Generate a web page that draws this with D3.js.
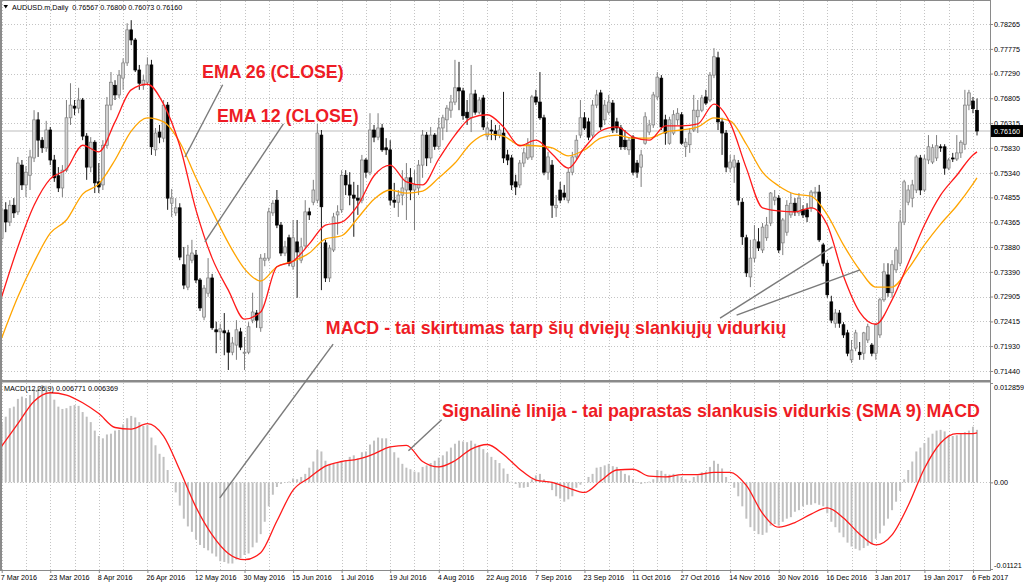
<!DOCTYPE html>
<html>
<head>
<meta charset="utf-8">
<script src="https://cdn.jsdelivr.net/npm/d3@7"></script>
<style>
body{margin:0;background:#fff;}
svg{display:block;font-family:"Liberation Sans",Arial,sans-serif;}
</style>
</head>
<body>
<svg id="chart" width="1024" height="584"></svg>
<script>
// daily bars, 7 Mar 2016 .. 7 Feb 2017
var opens = [
0.7405,0.7461,0.7437,0.7470,0.7457,0.7549,0.7510,0.7529,0.7563,0.7638,
0.7598,0.7583,0.7618,0.7559,0.7528,0.7504,0.7539,0.7642,0.7665,0.7661,
0.7677,0.7606,0.7545,0.7594,0.7516,0.7510,0.7588,0.7667,0.7706,0.7687,
0.7720,0.7750,0.7815,0.7795,0.7736,0.7706,0.7712,0.7746,0.7579,0.7614,
0.7602,0.7667,0.7474,0.7455,0.7465,0.7353,0.7309,0.7362,0.7372,0.7323,
0.7250,0.7297,0.7327,0.7225,0.7221,0.7223,0.7219,0.7181,0.7195,0.7221,
0.7179,0.7181,0.7244,0.7258,0.7229,0.7362,0.7366,0.7455,0.7480,0.7431,
0.7376,0.7406,0.7350,0.7398,0.7362,0.7390,0.7457,0.7476,0.7480,0.7608,
0.7396,0.7327,0.7382,0.7451,0.7461,0.7529,0.7510,0.7490,0.7484,0.7480,
0.7559,0.7535,0.7618,0.7604,0.7622,0.7583,0.7579,0.7480,0.7476,0.7490,
0.7500,0.7524,0.7500,0.7504,0.7549,0.7608,0.7563,0.7608,0.7586,0.7622,
0.7638,0.7657,0.7673,0.7701,0.7695,0.7653,0.7642,0.7689,0.7653,0.7681,
0.7606,0.7618,0.7616,0.7608,0.7612,0.7569,0.7563,0.7516,0.7510,0.7553,
0.7563,0.7565,0.7683,0.7673,0.7642,0.7535,0.7549,0.7465,0.7500,0.7494,
0.7480,0.7535,0.7565,0.7608,0.7642,0.7634,0.7608,0.7667,0.7691,0.7638,
0.7653,0.7671,0.7634,0.7622,0.7598,0.7579,0.7604,0.7553,0.7545,0.7592,
0.7614,0.7628,0.7683,0.7720,0.7638,0.7592,0.7612,0.7638,0.7648,0.7585,
0.7589,0.7618,0.7644,0.7657,0.7683,0.7677,0.7726,0.7760,0.7634,0.7612,
0.7543,0.7545,0.7553,0.7476,0.7406,0.7329,0.7366,0.7398,0.7382,0.7406,
0.7435,0.7480,0.7484,0.7396,0.7417,0.7451,0.7474,0.7455,0.7461,0.7461,
0.7465,0.7494,0.7496,0.7392,0.7356,0.7280,0.7238,0.7258,0.7235,0.7219,
0.7166,0.7189,0.7181,0.7179,0.7205,0.7195,0.7179,0.7215,0.7284,0.7333,
0.7298,0.7343,0.7356,0.7437,0.7476,0.7484,0.7500,0.7563,0.7500,0.7559,
0.7555,0.7563,0.7585,0.7585,0.7543,0.7563,0.7561,0.7573,0.7590,0.7667,
0.7675,0.76567];
var highs = [
0.7484,0.7476,0.7480,0.7484,0.7565,0.7559,0.7547,0.7579,0.7657,0.7653,
0.7604,0.7636,0.7624,0.7569,0.7545,0.7549,0.7677,0.7710,0.7677,0.7701,
0.7681,0.7612,0.7604,0.7598,0.7553,0.7598,0.7683,0.7732,0.7716,0.7736,
0.7759,0.7828,0.7834,0.7799,0.7746,0.7726,0.7761,0.7756,0.7622,0.7628,
0.7677,0.7673,0.7502,0.7484,0.7474,0.7388,0.7392,0.7402,0.7382,0.7327,
0.7313,0.7366,0.7335,0.7241,0.7237,0.7258,0.7225,0.7211,0.7244,0.7229,
0.7211,0.7240,0.7298,0.7264,0.7374,0.7376,0.7465,0.7480,0.7500,0.7437,
0.7400,0.7412,0.7441,0.7441,0.7406,0.7480,0.7465,0.7520,0.7630,0.7618,
0.7402,0.7392,0.7455,0.7470,0.7539,0.7539,0.7535,0.7516,0.7510,0.7569,
0.7563,0.7651,0.7628,0.7651,0.7630,0.7602,0.7598,0.7514,0.7500,0.7539,
0.7553,0.7543,0.7539,0.7559,0.7618,0.7614,0.7624,0.7612,0.7642,0.7648,
0.7667,0.7687,0.7756,0.7752,0.7701,0.7677,0.7746,0.7697,0.7683,0.7687,
0.7634,0.7638,0.7628,0.7628,0.7693,0.7579,0.7569,0.7530,0.7559,0.7583,
0.7602,0.7687,0.7697,0.7732,0.7648,0.7575,0.7559,0.7490,0.7516,0.7510,
0.7543,0.7575,0.7608,0.7677,0.7653,0.7642,0.7677,0.7697,0.7697,0.7677,
0.7687,0.7677,0.7642,0.7628,0.7618,0.7604,0.7608,0.7559,0.7579,0.7653,
0.7638,0.7693,0.7732,0.7726,0.7648,0.7644,0.7657,0.7661,0.7653,0.7602,
0.7622,0.7687,0.7677,0.7687,0.7697,0.7732,0.7779,0.7772,0.7642,0.7618,
0.7569,0.7569,0.7559,0.7484,0.7412,0.7402,0.7431,0.7425,0.7435,0.7447,
0.7496,0.7500,0.7490,0.7445,0.7480,0.7494,0.7484,0.7494,0.7470,0.7474,
0.7500,0.7506,0.7510,0.7396,0.7362,0.7292,0.7266,0.7264,0.7240,0.7225,
0.7205,0.7225,0.7201,0.7221,0.7237,0.7199,0.7238,0.7288,0.7356,0.7356,
0.7362,0.7388,0.7461,0.7520,0.7510,0.7520,0.7569,0.7569,0.7569,0.7608,
0.7590,0.7608,0.7590,0.7590,0.7563,0.7573,0.7608,0.7598,0.7697,0.7697,
0.7683,0.76800];
var lows = [
0.7392,0.7417,0.7429,0.7445,0.7451,0.7500,0.7486,0.7500,0.7555,0.7565,
0.7573,0.7575,0.7549,0.7516,0.7496,0.7486,0.7535,0.7628,0.7647,0.7651,
0.7598,0.7520,0.7535,0.7494,0.7494,0.7500,0.7582,0.7657,0.7677,0.7681,
0.7697,0.7744,0.7785,0.7732,0.7697,0.7697,0.7706,0.7569,0.7567,0.7592,
0.7594,0.7461,0.7447,0.7449,0.7362,0.7305,0.7303,0.7356,0.7317,0.7262,
0.7244,0.7290,0.7225,0.7179,0.7205,0.7175,0.7146,0.7175,0.7166,0.7185,
0.7146,0.7177,0.7238,0.7229,0.7221,0.7350,0.7360,0.7449,0.7425,0.7370,
0.7370,0.7350,0.7343,0.7288,0.7356,0.7384,0.7441,0.7470,0.7474,0.7303,
0.7319,0.7319,0.7378,0.7412,0.7455,0.7490,0.7470,0.7408,0.7451,0.7474,
0.7524,0.7529,0.7594,0.7598,0.7575,0.7569,0.7470,0.7465,0.7447,0.7470,
0.7441,0.7480,0.7421,0.7490,0.7524,0.7547,0.7553,0.7579,0.7579,0.7598,
0.7614,0.7642,0.7667,0.7657,0.7638,0.7628,0.7614,0.7648,0.7649,0.7618,
0.7598,0.7598,0.7598,0.7602,0.7553,0.7549,0.7500,0.7490,0.7504,0.7545,
0.7559,0.7559,0.7667,0.7638,0.7529,0.7520,0.7445,0.7447,0.7474,0.7480,
0.7474,0.7529,0.7559,0.7602,0.7618,0.7598,0.7602,0.7661,0.7618,0.7628,
0.7648,0.7612,0.7612,0.7579,0.7579,0.7569,0.7529,0.7524,0.7506,0.7589,
0.7608,0.7622,0.7677,0.7618,0.7589,0.7589,0.7608,0.7628,0.7589,0.7565,
0.7573,0.7614,0.7612,0.7653,0.7667,0.7673,0.7720,0.7618,0.7569,0.7535,
0.7535,0.7514,0.7470,0.7392,0.7329,0.7309,0.7358,0.7380,0.7376,0.7400,
0.7429,0.7470,0.7376,0.7372,0.7410,0.7445,0.7449,0.7449,0.7445,0.7437,
0.7457,0.7486,0.7398,0.7350,0.7288,0.7238,0.7229,0.7229,0.7209,0.7173,
0.7160,0.7183,0.7166,0.7166,0.7199,0.7173,0.7166,0.7209,0.7280,0.7290,
0.7288,0.7337,0.7350,0.7431,0.7470,0.7466,0.7494,0.7490,0.7496,0.7551,
0.7551,0.7557,0.7575,0.7530,0.7539,0.7555,0.7557,0.7563,0.7579,0.7657,
0.7651,0.76073];
var closes = [
0.7461,0.7437,0.7470,0.7455,0.7553,0.7510,0.7535,0.7565,0.7638,0.7598,
0.7583,0.7618,0.7559,0.7524,0.7504,0.7539,0.7642,0.7667,0.7661,0.7677,
0.7606,0.7545,0.7594,0.7514,0.7506,0.7588,0.7667,0.7712,0.7687,0.7726,
0.7750,0.7815,0.7795,0.7736,0.7710,0.7716,0.7746,0.7585,0.7612,0.7604,
0.7667,0.7484,0.7484,0.7465,0.7368,0.7313,0.7372,0.7376,0.7323,0.7268,
0.7307,0.7327,0.7229,0.7221,0.7227,0.7219,0.7181,0.7199,0.7225,0.7191,
0.7181,0.7231,0.7260,0.7244,0.7366,0.7366,0.7457,0.7474,0.7431,0.7376,
0.7388,0.7356,0.7406,0.7378,0.7388,0.7457,0.7451,0.7500,0.7612,0.7467,
0.7327,0.7386,0.7447,0.7457,0.7529,0.7510,0.7490,0.7484,0.7480,0.7559,
0.7535,0.7618,0.7604,0.7622,0.7579,0.7579,0.7480,0.7476,0.7490,0.7504,
0.7524,0.7500,0.7510,0.7549,0.7608,0.7563,0.7608,0.7586,0.7622,0.7642,
0.7661,0.7673,0.7701,0.7695,0.7646,0.7642,0.7689,0.7653,0.7677,0.7624,
0.7622,0.7616,0.7608,0.7618,0.7563,0.7559,0.7510,0.7506,0.7553,0.7573,
0.7590,0.7683,0.7673,0.7642,0.7535,0.7565,0.7470,0.7470,0.7480,0.7486,
0.7535,0.7565,0.7598,0.7642,0.7622,0.7604,0.7667,0.7687,0.7624,0.7667,
0.7673,0.7618,0.7622,0.7585,0.7585,0.7598,0.7535,0.7535,0.7569,0.7644,
0.7628,0.7687,0.7722,0.7624,0.7612,0.7638,0.7648,0.7651,0.7592,0.7594,
0.7612,0.7657,0.7657,0.7681,0.7671,0.7726,0.7762,0.7634,0.7612,0.7545,
0.7555,0.7559,0.7480,0.7408,0.7337,0.7366,0.7402,0.7386,0.7427,0.7431,
0.7494,0.7486,0.7382,0.7441,0.7470,0.7474,0.7457,0.7484,0.7451,0.7447,
0.7496,0.7496,0.7402,0.7356,0.7294,0.7244,0.7258,0.7238,0.7215,0.7179,
0.7185,0.7219,0.7176,0.7219,0.7231,0.7179,0.7235,0.7284,0.7339,0.7298,
0.7353,0.7382,0.7437,0.7516,0.7500,0.7510,0.7565,0.7500,0.7561,0.7585,
0.7583,0.7587,0.7583,0.7543,0.7559,0.7561,0.7573,0.7594,0.7667,0.7691,
0.7660,0.76160];

// EMA 12 / EMA 26 read at every 4th bar
var emaBars = [0,4,8,12,16,20,24,28,32,36,40,44,48,52,56,60,64,68,72,76,80,84,88,92,96,100,
  104,108,112,116,120,124,128,132,136,140,144,148,152,156,160,164,168,172,176,180,184,188,
  192,196,200,204,208,212,216,220,224,228,232,236,240,241];
var ema12 = [0.7290,0.7388,0.7470,0.7522,0.7541,0.7588,0.7575,0.7634,0.7697,0.7708,0.7669,
  0.7587,0.7461,0.7366,0.7303,0.7246,0.7260,0.7349,0.7360,0.7394,0.7431,0.7437,0.7470,0.7528,
  0.7549,0.7516,0.7510,0.7561,0.7608,0.7642,0.7648,0.7624,0.7587,0.7598,0.7571,0.7543,0.7583,
  0.7616,0.7624,0.7604,0.7598,0.7626,0.7626,0.7630,0.7669,0.7632,0.7543,0.7465,0.7459,0.7457,
  0.7465,0.7431,0.7331,0.7260,0.7236,0.7284,0.7356,0.7431,0.7490,0.7529,0.7569,0.7575];
var ema26 = [0.7209,0.7290,0.7358,0.7415,0.7441,0.7492,0.7512,0.7559,0.7616,0.7642,0.7634,
  0.7594,0.7524,0.7459,0.7396,0.7345,0.7321,0.7349,0.7360,0.7376,0.7404,0.7410,0.7445,0.7482,
  0.7500,0.7494,0.7498,0.7524,0.7553,0.7592,0.7610,0.7606,0.7588,0.7587,0.7583,0.7567,0.7579,
  0.7602,0.7608,0.7602,0.7602,0.7614,0.7618,0.7624,0.7642,0.7636,0.7590,0.7535,0.7508,0.7492,
  0.7488,0.7451,0.7392,0.7343,0.7309,0.7309,0.7345,0.7392,0.7433,0.7469,0.7512,0.7524];

// MACD(12,26,9): histogram per bar, signal read at every 4th bar
var macdHist = [
0.0078,0.0085,0.0096,0.0098,0.0108,0.0111,0.0109,0.0113,0.0121,0.0124,
0.0126,0.0125,0.0118,0.0107,0.0098,0.0095,0.0096,0.0099,0.0100,0.0099,
0.0091,0.0085,0.0078,0.0067,0.0060,0.0057,0.0062,0.0063,0.0067,0.0068,
0.0075,0.0083,0.0086,0.0084,0.0078,0.0073,0.0074,0.0058,0.0048,0.0037,
0.0033,0.0016,-0.0001,-0.0013,-0.0030,-0.0047,-0.0057,-0.0064,-0.0074,-0.0081,
-0.0085,-0.0088,-0.0092,-0.0096,-0.0102,-0.0103,-0.0105,-0.0105,-0.0100,-0.0098,
-0.0094,-0.0092,-0.0084,-0.0078,-0.0067,-0.0051,-0.0031,-0.0016,-0.0006,-0.0002,
0.0000,0.0001,0.0005,0.0004,0.0007,0.0011,0.0019,0.0027,0.0042,0.0040,
0.0028,0.0024,0.0024,0.0026,0.0027,0.0029,0.0033,0.0035,0.0031,0.0039,
0.0040,0.0049,0.0054,0.0058,0.0057,0.0057,0.0047,0.0039,0.0032,0.0024,
0.0019,0.0017,0.0014,0.0013,0.0020,0.0022,0.0025,0.0028,0.0032,0.0035,
0.0040,0.0045,0.0050,0.0054,0.0053,0.0052,0.0054,0.0050,0.0048,0.0043,
0.0038,0.0033,0.0029,0.0025,0.0018,0.0011,0.0001,-0.0002,-0.0007,-0.0007,
-0.0006,0.0004,0.0009,0.0011,0.0004,-0.0001,-0.0010,-0.0018,-0.0021,-0.0025,
-0.0022,-0.0018,-0.0007,-0.0003,0.0000,0.0007,0.0011,0.0019,0.0020,0.0022,
0.0024,0.0021,0.0020,0.0015,0.0011,0.0009,0.0004,0.0000,-0.0002,-0.0001,
0.0001,0.0004,0.0016,0.0015,0.0011,0.0010,0.0011,0.0009,0.0007,0.0004,
0.0002,0.0007,0.0009,0.0013,0.0014,0.0020,0.0028,0.0024,0.0018,0.0007,
0.0000,-0.0007,-0.0018,-0.0031,-0.0047,-0.0058,-0.0063,-0.0067,-0.0068,-0.0065,
-0.0056,-0.0054,-0.0056,-0.0051,-0.0047,-0.0045,-0.0038,-0.0036,-0.0031,-0.0029,
-0.0029,-0.0027,-0.0029,-0.0031,-0.0040,-0.0051,-0.0058,-0.0065,-0.0071,-0.0078,
-0.0083,-0.0086,-0.0088,-0.0085,-0.0082,-0.0080,-0.0073,-0.0066,-0.0056,-0.0047,
-0.0036,-0.0025,-0.0011,0.0004,0.0016,0.0027,0.0040,0.0045,0.0051,0.0058,
0.0063,0.0067,0.0068,0.0066,0.0061,0.0060,0.0061,0.0063,0.0065,0.0067,
0.0072,0.0068];
var signal = [0.0047,0.0076,0.0105,0.0116,0.0113,0.0103,0.0089,0.0071,0.0069,0.0076,
  0.0060,0.0016,-0.0032,-0.0068,-0.0092,-0.0100,-0.0091,-0.0050,-0.0010,0.0006,
  0.0021,0.0027,0.0030,0.0037,0.0046,0.0048,0.0027,0.0020,0.0028,0.0043,
  0.0049,0.0036,0.0017,0.0003,0.0000,-0.0007,-0.0013,0.0002,0.0016,0.0017,
  0.0008,0.0007,0.0010,0.0010,0.0013,0.0013,-0.0004,-0.0040,-0.0058,-0.0052,
  -0.0041,-0.0033,-0.0046,-0.0067,-0.0081,-0.0068,-0.0030,0.0018,0.0051,0.0063,
  0.0063,0.0064];
var macdLast = [0.006771, 0.006369];

var dateLabels = ["7 Mar 2016","23 Mar 2016","8 Apr 2016","26 Apr 2016","12 May 2016",
  "30 May 2016","15 Jun 2016","1 Jul 2016","19 Jul 2016","4 Aug 2016","22 Aug 2016",
  "7 Sep 2016","23 Sep 2016","11 Oct 2016","27 Oct 2016","14 Nov 2016","30 Nov 2016",
  "16 Dec 2016","3 Jan 2017","19 Jan 2017","6 Feb 2017"];
var dateBars = [0,12,24,36,48,60,72,84,96,108,120,132,144,156,168,180,192,204,216,228,240];
var priceTicks = [0.78265,0.77775,0.77290,0.76805,0.76315,0.75830,0.75340,0.74855,
  0.74365,0.73880,0.73390,0.72905,0.72415,0.71930,0.71440];
var macdTicks = [0.012859,0,-0.01121];
var macdTickLabels = ["0.012859","0.00","-0.01121"];
var lastPrice = 0.76160;

// notes drawn on the picture (bar index, price or macd value)
var notes = [
  {text:"EMA 26 (CLOSE)", bar:49.5, price:0.7720},
  {text:"EMA 12 (CLOSE)", bar:53.2, price:0.7634},
  {text:"MACD - tai skirtumas tarp šių dviejų slankiųjų vidurkių", bar:80.1, price:0.7217},
  {text:"Signalinė linija - tai paprastas slankusis vidurkis (SMA 9) MACD", bar:108.8, macd:0.00846}
];
var pointers = [
  {from:{bar:54.6, price:0.7707}, to:{bar:45.3, price:0.7565}},
  {from:{bar:69.6, price:0.7630}, to:{bar:50.2, price:0.7398}},
  {from:{bar:81.9, price:0.7197}, to:{bar:53.9, macd:-0.0020}},
  {from:{bar:177.5, price:0.7248}, to:{bar:205.3, price:0.7388}},
  {from:{bar:181.6, price:0.7254}, to:{bar:212.1, price:0.7343}},
  {from:{bar:108.7, macd:0.0081}, to:{bar:100.5, macd:0.0041}}
];

const svg = d3.select("#chart");
const plotR = 990, mainTop = 1, sepY = 381, macdBot = 570;
const n = closes.length;

const x = d3.scaleLinear().domain([0, n - 1]).range([1.7, 1.7 + 4.047 * (n - 1)]);
const y = d3.scaleLinear().domain([0.71440, 0.78265]).range([371, 24]);
const ym = d3.scaleLinear().domain([-0.01121, 0.012859]).range([569, 383]);

function px(p){ return p.price !== undefined ? y(p.price) : ym(p.macd); }

svg.append("rect").attr("width", 1024).attr("height", 584).attr("fill", "#fff");

// grid
const grid = svg.append("g").attr("stroke", "#c4c4c4").attr("stroke-dasharray", "1,2").attr("stroke-width", 1);
const vBars = d3.range(0, n, 6);
grid.selectAll(".vg1").data(vBars).enter().append("line")
  .attr("x1", d => Math.round(x(d)) + 0.5).attr("x2", d => Math.round(x(d)) + 0.5)
  .attr("y1", mainTop).attr("y2", sepY - 1);
grid.selectAll(".vg2").data(vBars).enter().append("line")
  .attr("x1", d => Math.round(x(d)) + 0.5).attr("x2", d => Math.round(x(d)) + 0.5)
  .attr("y1", sepY + 2).attr("y2", macdBot);
grid.selectAll(".hg").data(priceTicks).enter().append("line")
  .attr("x1", 2).attr("x2", plotR)
  .attr("y1", d => Math.round(y(d)) + 0.5).attr("y2", d => Math.round(y(d)) + 0.5);
grid.append("line").attr("x1", 2).attr("x2", plotR)
  .attr("y1", Math.round(ym(0)) + 0.5).attr("y2", Math.round(ym(0)) + 0.5);

// last price line
svg.append("line").attr("x1", 2).attr("x2", plotR)
  .attr("y1", y(lastPrice)).attr("y2", y(lastPrice))
  .attr("stroke", "#dedede").attr("stroke-width", 2);

// candles
const bars = d3.range(n).map(i => ({i:i, o:opens[i], h:highs[i], l:lows[i], c:closes[i]}));
const cg = svg.append("g");
cg.selectAll(".wick").data(bars).enter().append("line")
  .attr("x1", d => x(d.i)).attr("x2", d => x(d.i))
  .attr("y1", d => y(d.h)).attr("y2", d => y(d.l))
  .attr("stroke", d => d.c >= d.o ? "#7d7d7d" : "#1a1a1a").attr("stroke-width", 1);
cg.selectAll(".body").data(bars).enter().append("rect")
  .attr("x", d => x(d.i) - 1.4).attr("width", 2.8)
  .attr("y", d => y(Math.max(d.o, d.c)))
  .attr("height", d => Math.max(1, Math.abs(y(d.o) - y(d.c))))
  .attr("fill", d => d.c >= d.o ? "#d2d2d2" : "#000")
  .attr("stroke", d => d.c >= d.o ? "#7d7d7d" : "#000").attr("stroke-width", 0.7);

// moving averages
const emaLine = v => d3.line().x((d, k) => x(emaBars[k])).y(d => y(d)).curve(d3.curveMonotoneX)(v);
svg.append("path").attr("d", emaLine(ema26)).attr("fill", "none").attr("stroke", "#ffa500").attr("stroke-width", 1.3);
svg.append("path").attr("d", emaLine(ema12)).attr("fill", "none").attr("stroke", "#ff1a1a").attr("stroke-width", 1.3);

// MACD histogram and signal
svg.append("g").selectAll("rect").data(macdHist).enter().append("rect")
  .attr("x", (d, i) => x(i) - 1).attr("width", 2)
  .attr("y", d => Math.min(ym(0), ym(d)))
  .attr("height", d => Math.max(0.5, Math.abs(ym(d) - ym(0))))
  .attr("fill", "#c0c0c0");
svg.append("path")
  .attr("d", d3.line().x((d, k) => x(emaBars[k])).y(d => ym(d)).curve(d3.curveMonotoneX)(signal))
  .attr("fill", "none").attr("stroke", "#ff1a1a").attr("stroke-width", 1.3);

// frame and pane separator
svg.append("rect").attr("x", 0).attr("y", 0).attr("width", 2).attr("height", macdBot).attr("fill", "#8a8a8a");
svg.append("line").attr("x1", 0).attr("x2", plotR).attr("y1", 0.5).attr("y2", 0.5).attr("stroke", "#8a8a8a");
svg.append("rect").attr("x", 0).attr("y", sepY - 1).attr("width", plotR).attr("height", 2.5).attr("fill", "#8a8a8a");
svg.append("line").attr("x1", plotR + 0.5).attr("x2", plotR + 0.5).attr("y1", 0).attr("y2", macdBot + 1).attr("stroke", "#8a8a8a");
svg.append("line").attr("x1", 0).attr("x2", plotR + 1).attr("y1", macdBot + 0.5).attr("y2", macdBot + 0.5).attr("stroke", "#8a8a8a");

// axes
const axisFont = "7.2px";
const ay = svg.append("g").attr("transform", `translate(${plotR},0)`)
  .call(d3.axisRight(y).tickValues(priceTicks).tickFormat(d3.format(".5f")).tickSize(3).tickPadding(1));
const am = svg.append("g").attr("transform", `translate(${plotR},0)`)
  .call(d3.axisRight(ym).tickValues(macdTicks).tickFormat((d, k) => macdTickLabels[k]).tickSize(3).tickPadding(1));
am.selectAll(".tick text").attr("dy", (d, k) => k === 0 ? "0.85em" : (k === 2 ? "-0.2em" : "0.32em"));
const ax = svg.append("g").attr("transform", `translate(0,${macdBot})`)
  .call(d3.axisBottom(x).tickValues(dateBars).tickFormat((d, k) => dateLabels[k]).tickSize(3).tickPadding(2));
ax.selectAll(".tick text").attr("text-anchor", "start").attr("x", -1.5);
[ay, am, ax].forEach(a => {
  a.select(".domain").remove();
  a.selectAll(".tick line").attr("stroke", "#8a8a8a");
  a.selectAll(".tick text").attr("font-size", axisFont).attr("fill", "#000")
    .attr("font-family", "'Liberation Sans', Arial, sans-serif");
});

// last price box
svg.append("rect").attr("x", plotR + 1).attr("y", y(lastPrice) - 6).attr("width", 32).attr("height", 12).attr("fill", "#000");
svg.append("text").attr("x", plotR + 4).attr("y", y(lastPrice) + 2.6)
  .attr("font-size", axisFont).attr("fill", "#fff").text(d3.format(".5f")(lastPrice));

// header texts
svg.append("path").attr("d", "M3.5,5 L8,5 L5.75,8.5 Z").attr("fill", "#000");
svg.append("text").attr("x", 12).attr("y", 9.8).attr("font-size", axisFont).attr("fill", "#000")
  .text("AUDUSD.m,Daily\u00a0 " + [opens[n-1], highs[n-1], lows[n-1], closes[n-1]].map(d3.format(".5f")).join(" "));
svg.append("text").attr("x", 4).attr("y", 390.5).attr("font-size", axisFont).attr("fill", "#000")
  .text("MACD(12,26,9) " + macdLast.map(d3.format(".6f")).join(" "));

// pointer lines and notes
svg.append("g").selectAll("line").data(pointers).enter().append("line")
  .attr("x1", d => x(d.from.bar)).attr("y1", d => px(d.from))
  .attr("x2", d => x(d.to.bar)).attr("y2", d => px(d.to))
  .attr("stroke", "#7a7a7a").attr("stroke-width", 1.4);
svg.append("g").selectAll("text").data(notes).enter().append("text")
  .attr("x", d => x(d.bar)).attr("y", d => px(d))
  .attr("font-size", "17.8px").attr("font-weight", "bold").attr("fill", "#ee1c25")
  .text(d => d.text);
</script>
</body>
</html>
